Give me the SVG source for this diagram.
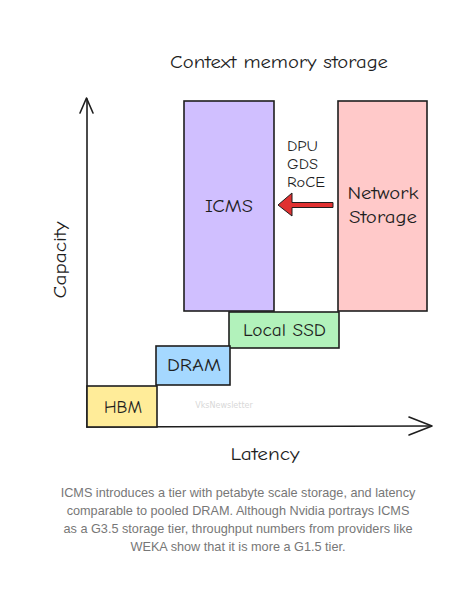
<svg xmlns="http://www.w3.org/2000/svg" width="476" height="598" viewBox="0 0 476 598">
<style>
.box{stroke:#1e1e1e;stroke-width:1.6}
.hand{font-family:"Comic Neue","Noto Sans","DejaVu Sans",sans-serif;fill:#1e1e1e;text-anchor:middle;dominant-baseline:central;font-size:17px;font-weight:500}
.small{font-size:14px;text-anchor:start}
.axis{stroke:#1e1e1e;stroke-width:1.6;fill:none;stroke-linecap:round;stroke-linejoin:round}
.cap{font-family:"Liberation Sans",Arial,sans-serif;font-size:12.7px;fill:#777777;text-anchor:middle}
</style>
<rect width="476" height="598" fill="#ffffff"/>
<text class="hand" x="279" y="62" textLength="218" lengthAdjust="spacingAndGlyphs">Context memory storage</text>
<g id="connectors">
<path class="axis" d="M87 427 L87 99"/>
<path class="axis" d="M80 113 L86.5 98 L93 113"/>
<path class="axis" d="M87 427 L431 426"/>
<path class="axis" d="M409 417 L432 426 L409 435"/>
<path d="M333 202.5 L292 202.5 L292 193 L278 205 L292 216 L292 207.5 L333 207.5 Z" fill="#e03131" stroke="#1e1e1e" stroke-width="1" stroke-linejoin="round"/>
</g>
<g id="icms"><rect class="box" x="184" y="101" width="90" height="210" fill="#d0bfff"/><text class="hand" x="229" y="206" textLength="48" lengthAdjust="spacingAndGlyphs">ICMS</text></g>
<g id="network"><rect class="box" x="338" y="101" width="89" height="210" fill="#ffc9c9"/><text class="hand" x="383" y="193" textLength="71" lengthAdjust="spacingAndGlyphs">Network</text><text class="hand" x="383" y="217" textLength="68" lengthAdjust="spacingAndGlyphs">Storage</text></g>
<g id="ssd"><rect class="box" x="229" y="312" width="110" height="36" fill="#b2f2bb"/><text class="hand" x="284.5" y="330" textLength="83" lengthAdjust="spacingAndGlyphs">Local SSD</text></g>
<g id="dram"><rect class="box" x="156" y="346" width="74" height="39" fill="#a5d8ff"/><text class="hand" x="194" y="365" textLength="54" lengthAdjust="spacingAndGlyphs">DRAM</text></g>
<g id="hbm"><rect class="box" x="87" y="386" width="70" height="41" fill="#ffec99"/><text class="hand" x="123" y="407" textLength="38" lengthAdjust="spacingAndGlyphs">HBM</text></g>
<g id="protocols"><text class="hand small" x="287" y="146" textLength="31" lengthAdjust="spacingAndGlyphs">DPU</text><text class="hand small" x="287" y="164" textLength="31" lengthAdjust="spacingAndGlyphs">GDS</text><text class="hand small" x="287" y="182" textLength="38" lengthAdjust="spacingAndGlyphs">RoCE</text></g>
<text class="hand" x="265" y="454" textLength="69" lengthAdjust="spacingAndGlyphs">Latency</text>
<text class="hand" x="0" y="0" textLength="77" lengthAdjust="spacingAndGlyphs" transform="translate(60 260) rotate(-90)">Capacity</text>
<text x="224" y="405" font-family="DejaVu Sans, sans-serif" font-size="8" fill="#d8d8d8" text-anchor="middle" dominant-baseline="central">VksNewsletter</text>
<g id="caption">
<text class="cap" x="238" y="497">ICMS introduces a tier with petabyte scale storage, and latency</text>
<text class="cap" x="238" y="515">comparable to pooled DRAM. Although Nvidia portrays ICMS</text>
<text class="cap" x="238" y="533">as a G3.5 storage tier, throughput numbers from providers like</text>
<text class="cap" x="238" y="551">WEKA show that it is more a G1.5 tier.</text>
</g>
</svg>
